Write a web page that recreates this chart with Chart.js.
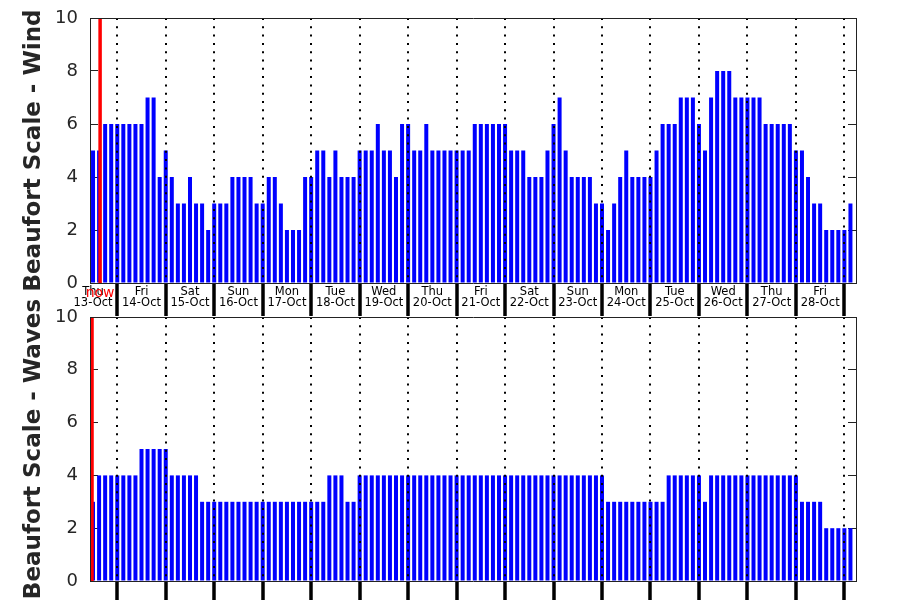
<!DOCTYPE html>
<html>
<head>
<meta charset="utf-8">
<script src="https://cdn.jsdelivr.net/npm/chart.js@4/dist/chart.umd.min.js"></script>
<style>
    body { margin: 0; background: #fff; }
    #wrap { position: relative; width: 900px; height: 600px; }
    canvas { position: absolute; left: 0; top: 0; }
</style>
</head>
<body>
<div id="wrap">
    <canvas id="windChart" width="900" height="600"></canvas>
    <canvas id="waveChart" width="900" height="600"></canvas>
</div>
<script>
// time axis in hours counted from 13-Oct 00:00, one bar every 3 hours
const firstHour = 12;
const stepHours = 3;
const axisStart = 10.5;
const axisEnd = 389.75;
const nowWind = 15.5;
const nowWave = 11.5;

const dayNames = ['Thu', 'Fri', 'Sat', 'Sun', 'Mon', 'Tue', 'Wed', 'Thu',
                  'Fri', 'Sat', 'Sun', 'Mon', 'Tue', 'Wed', 'Thu', 'Fri'];
const dayDates = ['13-Oct', '14-Oct', '15-Oct', '16-Oct', '17-Oct', '18-Oct', '19-Oct', '20-Oct',
                  '21-Oct', '22-Oct', '23-Oct', '24-Oct', '25-Oct', '26-Oct', '27-Oct', '28-Oct'];

const yTicks = [0, 2, 4, 6, 8, 10];

const windValues = [
    5, 5, 6, 6,
    6, 6, 6, 6, 6, 7, 7, 4,
    5, 4, 3, 3, 4, 3, 3, 2,
    3, 3, 3, 4, 4, 4, 4, 3,
    3, 4, 4, 3, 2, 2, 2, 4,
    4, 5, 5, 4, 5, 4, 4, 4,
    5, 5, 5, 6, 5, 5, 4, 6,
    6, 5, 5, 6, 5, 5, 5, 5,
    5, 5, 5, 6, 6, 6, 6, 6,
    6, 5, 5, 5, 4, 4, 4, 5,
    6, 7, 5, 4, 4, 4, 4, 3,
    3, 2, 3, 4, 5, 4, 4, 4,
    4, 5, 6, 6, 6, 7, 7, 7,
    6, 5, 7, 8, 8, 8, 7, 7,
    7, 7, 7, 6, 6, 6, 6, 6,
    5, 5, 4, 3, 3, 2, 2, 2,
    2, 3
];

const waveValues = [
    3, 4, 4, 4,
    4, 4, 4, 4, 5, 5, 5, 5,
    5, 4, 4, 4, 4, 4, 3, 3,
    3, 3, 3, 3, 3, 3, 3, 3,
    3, 3, 3, 3, 3, 3, 3, 3,
    3, 3, 3, 4, 4, 4, 3, 3,
    4, 4, 4, 4, 4, 4, 4, 4,
    4, 4, 4, 4, 4, 4, 4, 4,
    4, 4, 4, 4, 4, 4, 4, 4,
    4, 4, 4, 4, 4, 4, 4, 4,
    4, 4, 4, 4, 4, 4, 4, 4,
    4, 3, 3, 3, 3, 3, 3, 3,
    3, 3, 3, 4, 4, 4, 4, 4,
    4, 3, 4, 4, 4, 4, 4, 4,
    4, 4, 4, 4, 4, 4, 4, 4,
    4, 3, 3, 3, 3, 2, 2, 2,
    2, 2
];

const FONT = '"DejaVu Sans", sans-serif';
const AXIS_COLOR = '#222222';
const TEXT_COLOR = '#262626';

function isDayStart(value) {
    return value % 24 === 0;
}

// pin the axis box to a fixed size and drop the label overhang padding
function fixBox(scale, w, h) {
    if (w !== null) scale.width = w;
    if (h !== null) scale.height = h;
    scale.paddingTop = 0;
    scale.paddingBottom = 0;
    scale.paddingLeft = 0;
    scale.paddingRight = 0;
}

function makeChart(canvasId, values, nowHour, opts) {
    const barData = values.map(function(v, i) {
        return { x: firstHour + i * stepHours, y: v };
    });

    const plugins = [];
    if (opts.nowText) {
        plugins.push({
            id: 'nowText',
            afterDraw: function(chart) {
                const ctx = chart.ctx;
                const x = chart.scales.x.getPixelForValue(nowHour);
                ctx.save();
                ctx.font = '14px ' + FONT;
                ctx.fillStyle = '#ff0000';
                ctx.textAlign = 'center';
                ctx.textBaseline = 'middle';
                ctx.fillText('now', x, chart.chartArea.bottom + 10);
                ctx.restore();
            }
        });
    }

    return new Chart(document.getElementById(canvasId), {
        type: 'bar',
        data: {
            datasets: [
                {
                    type: 'line',
                    data: [{ x: nowHour, y: 0 }, { x: nowHour, y: 10 }],
                    borderColor: '#ff0000',
                    borderWidth: 3.5,
                    pointRadius: 0,
                },
                {
                    data: barData,
                    backgroundColor: '#0000ff',
                    borderWidth: 0,
                    barPercentage: 1,
                    categoryPercentage: 0.66,
                }
            ]
        },
        options: {
            responsive: false,
            animation: false,
            devicePixelRatio: 1,
            layout: { padding: 0 },
            plugins: {
                legend: { display: false },
                tooltip: { enabled: false },
            },
            scales: {
                x: {
                    type: 'linear',
                    position: 'bottom',
                    offset: false,
                    min: axisStart,
                    max: axisEnd,
                    afterBuildTicks: function(scale) {
                        const ticks = [];
                        for (let h = 0; h <= axisEnd; h += 12) {
                            if (h < axisStart) continue;
                            if (!opts.dayLabels && !isDayStart(h)) continue;
                            ticks.push({ value: h });
                        }
                        scale.ticks = ticks;
                    },
                    afterFit: function(scale) { fixBox(scale, null, opts.bottomH); },
                    grid: {
                        z: 1,
                        offset: false,
                        lineWidth: 2,
                        color: function(c) { return c.tick && isDayStart(c.tick.value) ? '#000' : 'rgba(0,0,0,0)'; },
                        drawTicks: true,
                        tickLength: opts.tickLength,
                        tickWidth: 3.5,
                        tickColor: function(c) { return c.tick && isDayStart(c.tick.value) ? '#000' : 'rgba(0,0,0,0)'; },
                    },
                    border: { display: true, color: AXIS_COLOR, width: 1, dash: [2, 6.3], z: 1 },
                    ticks: {
                        display: opts.dayLabels,
                        autoSkip: false,
                        maxRotation: 0,
                        minRotation: 0,
                        padding: -29.5,
                        color: '#000',
                        font: { family: FONT, size: 11.5, lineHeight: 0.95 },
                        callback: function(value) {
                            if (isDayStart(value)) return '';
                            const d = Math.floor(value / 24);
                            return [dayNames[d], dayDates[d]];
                        }
                    }
                },
                xTop: {
                    type: 'linear',
                    position: 'top',
                    offset: false,
                    min: axisStart,
                    max: axisEnd,
                    afterFit: function(scale) { fixBox(scale, null, opts.topH); },
                    ticks: { display: false },
                    grid: { display: false },
                    border: { display: true, color: AXIS_COLOR, width: 1, z: 1 },
                },
                y: {
                    position: 'left',
                    min: 0,
                    max: 10,
                    afterBuildTicks: function(scale) { scale.ticks = yTicks.map(function(v) { return { value: v }; }); },
                    afterFit: function(scale) { fixBox(scale, 90, null); },
                    grid: { drawOnChartArea: false, drawTicks: true, tickLength: -8, tickColor: AXIS_COLOR, lineWidth: 1 },
                    border: { display: true, color: AXIS_COLOR, width: 1, z: 1 },
                    ticks: { padding: 20, color: TEXT_COLOR, font: { family: FONT, size: 18 } },
                    title: {
                        display: true,
                        text: opts.title,
                        color: TEXT_COLOR,
                        font: { family: FONT, size: 23, weight: 'bold' },
                        padding: { top: 20, bottom: 0 },
                    }
                },
                yRight: {
                    position: 'right',
                    min: 0,
                    max: 10,
                    afterBuildTicks: function(scale) { scale.ticks = yTicks.map(function(v) { return { value: v }; }); },
                    afterFit: function(scale) { fixBox(scale, 44, null); },
                    grid: { drawOnChartArea: false, drawTicks: true, tickLength: -8, tickColor: AXIS_COLOR, lineWidth: 1 },
                    border: { display: true, color: AXIS_COLOR, width: 1, z: 1 },
                    ticks: { display: false },
                }
            }
        },
        plugins: plugins
    });
}

window.windChart = makeChart('windChart', windValues, nowWind, {
    title: 'Beaufort Scale - Wind',
    topH: 18,
    bottomH: 317,
    tickLength: 33,
    dayLabels: true,
    nowText: true,
});

window.waveChart = makeChart('waveChart', waveValues, nowWave, {
    title: 'Beaufort Scale - Waves',
    topH: 317,
    bottomH: 19,
    tickLength: 19,
    dayLabels: false,
    nowText: false,
});
</script>
</body>
</html>
